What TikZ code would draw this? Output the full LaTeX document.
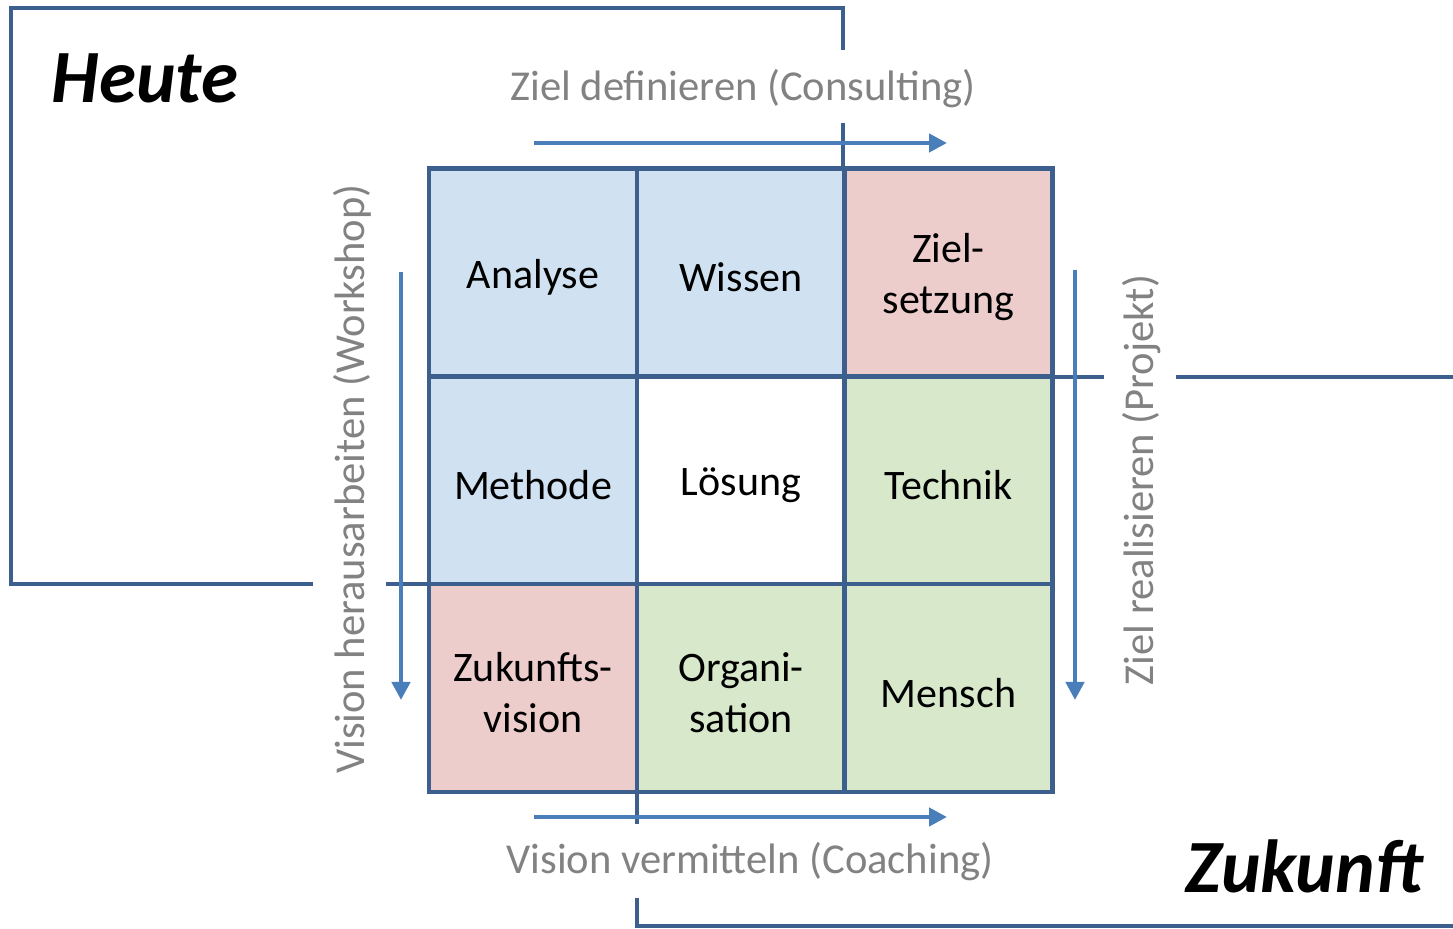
\documentclass[tikz,border=0pt]{standalone}
\usepackage{fontspec}
\setmainfont{Carlito}
\usetikzlibrary{arrows.meta}
\definecolor{frameblue}{HTML}{3C5F8E}
\definecolor{arrowblue}{HTML}{4A7EBB}
\definecolor{cellblue}{HTML}{D0E2F1}
\definecolor{cellred}{HTML}{EDCDCC}
\definecolor{cellgreen}{HTML}{D7E8CB}
\definecolor{labelgray}{HTML}{828282}
\tikzset{
	cell/.style={draw=frameblue,line width=2.2pt,minimum width=104pt,minimum height=104pt,
		outer sep=0pt,inner sep=0pt},
	celltext/.style={align=center,yshift=-2.5pt,font=\fontsize{21}{25.5}\selectfont},
	frame/.style={draw=frameblue,line width=2.2pt},
	flow/.style={draw=arrowblue,line width=2.2pt,-{Triangle[length=9pt,width=9pt]}},
	phase/.style={text=labelgray,font=\fontsize{21.3}{25}\selectfont},
	era/.style={font=\fontsize{37.6}{40}\selectfont\bfseries\itshape}
}
\begin{document}
\begin{tikzpicture}[x=0.5pt,y=-0.5pt]
	\useasboundingbox (0,0) rectangle (1453,929);
	% cells of the grid
	\foreach \n/\x/\y/\f/\t in {ana/533/272.5/cellblue/Analyse,wis/741/272.5/cellblue/Wissen,
		zie/948.5/272.5/cellred/{Ziel-\\setzung},met/533/480.5/cellblue/Methode,
		loe/741/480.5/white/Lösung,tec/948.5/480.5/cellgreen/Technik,
		zuk/533/688/cellred/{Zukunfts-\\vision},org/741/688/cellgreen/{Organi-\\sation},
		men/948.5/688/cellgreen/Mensch}{
		\node[cell,fill=\f,label={[celltext]center:\t}] (\n) at (\x,\y) {};
	}
	% Heute frame
	\path (313,584) coordinate (hl) (843,50) coordinate (ht) (843,123) coordinate (hb) (386,584) coordinate (hr);
	\draw[frame] (hl) -- (11,584) -- (11,8) -- (843,8) -- (ht);
	\draw[frame] (hb) -- (hb |- zie.north);
	\draw[frame] (hr) -- (hr -| zuk.west);
	% Zukunft frame
	\path (1104,377) coordinate (zl) (1176,377) coordinate (zr) (637,824) coordinate (zt) (637,898) coordinate (zb);
	\draw[frame] (zl -| zie.east) -- (zl);
	\draw[frame] (zr) -- (1453,377);
	\draw[frame] (zt |- zuk.south) -- (zt);
	\draw[frame] (zb) -- (637,926) -- (1453,926);
	% flow arrows
	\path (534,143) coordinate (ta) (947,143) coordinate (tb)
	(534,817) coordinate (ba) (947,817) coordinate (bb)
	(401,272) coordinate (la) (401,700) coordinate (lb)
	(1075,270) coordinate (ra) (1075,700) coordinate (rb);
	\draw[flow] (ta) -- (tb);
	\draw[flow] (ba) -- (bb);
	\draw[flow] (la) -- (lb);
	\draw[flow] (ra) -- (rb);
	% labels
	\node[phase] (zdef) at (743,89) {Ziel definieren (Consulting)};
	\node[phase] (vver) at (750,862) {Vision vermitteln (Coaching)};
	\node[phase,rotate=90] (vher) at (352,479) {Vision herausarbeiten (Workshop)};
	\node[phase,rotate=90] (zrea) at (1142,480) {Ziel realisieren (Projekt)};
	\node[era] (heute) at (145,78) {Heute};
	\node[era] (zukunft) at (1304,866) {Zukunft};
\end{tikzpicture}
\end{document}
